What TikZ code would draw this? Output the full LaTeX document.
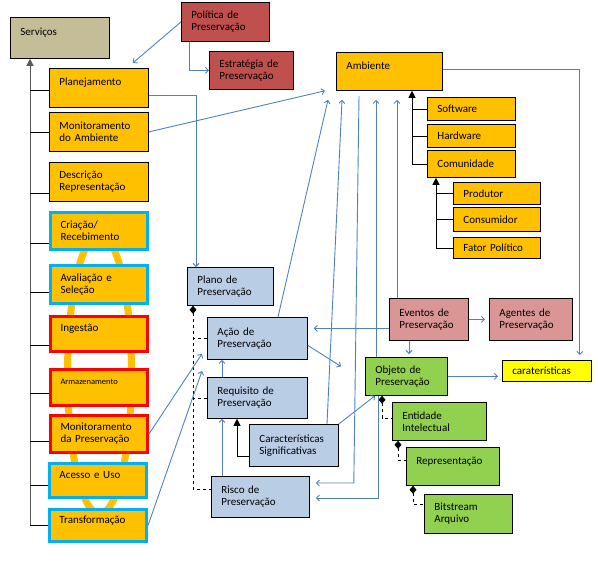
\documentclass[tikz,border=0pt]{standalone}
\usepackage{fontspec}
\setmainfont{Carlito}
\usepackage{xcolor}
\usepackage{tikz}
\usetikzlibrary{arrows.meta}
\definecolor{orng}{HTML}{FFC000}
\definecolor{servc}{HTML}{C4BD97}
\definecolor{redbx}{HTML}{C0504D}
\definecolor{pinkbx}{HTML}{D99694}
\definecolor{bluebx}{HTML}{B9CDE5}
\definecolor{greenbx}{HTML}{92D050}
\definecolor{yelbx}{HTML}{FFFF00}
\definecolor{linkblue}{HTML}{4F81BD}
\definecolor{cyanbd}{HTML}{00B0F0}

\begin{document}
\begin{tikzpicture}[x=1pt, y=-1pt,
  blk/.style={draw, line width=0.8pt, anchor=north west, align=left, inner xsep=10pt, inner ysep=2pt, font=\fontsize{11}{12}\selectfont},
  sz/.style 2 args={minimum width=#1pt, text width=#1pt-20pt, minimum height=#2pt},
  srv/.style={blk, fill=orng},
  cyanb/.style={srv, draw=cyanbd, line width=3pt},
  redb/.style={srv, draw=red, line width=3pt},
  arrow/.style={draw=linkblue, line width=0.9pt, -{Straight Barb[length=3pt,width=6pt]}},
  tri/.style={line width=0.8pt, -{Triangle[length=7pt,width=7pt]}},
  comp/.style={line width=0.8pt, dashed, {Diamond[length=8pt,width=7pt]}-}]
  \useasboundingbox (0,0) rectangle (598,565);
  \draw[orng, line width=7pt] (99.5,374) ellipse [x radius=32pt, y radius=140pt];

  \node[blk, fill=servc, sz={99}{41}] (serv) at (10,17) {Serviços\\\mbox{}};
  \node[blk, fill=redbx, sz={88}{39}] (pol) at (181,2) {Política de\\Preservação};
  \node[blk, fill=redbx, sz={84}{38}] (estr) at (209,51) {Estratégia de\\Preservação};
  \node[srv, sz={99}{39}] (planj) at (49,68) {Planejamento\\\mbox{}};
  \node[srv, sz={99}{39}] (monamb) at (49,112) {Monitoramento\\do Ambiente};
  \node[srv, sz={99}{39}] (descr) at (49,162) {Descrição\\Representação};
  \node[cyanb, sz={97}{37}] (criac) at (49,211) {Criação/\\Recebimento};
  \node[cyanb, sz={97}{38}] (aval) at (49,264) {Avaliação e\\Seleção};
  \node[redb, sz={97}{35}] (ingest) at (49,315) {Ingestão\\\mbox{}};
  \node[redb, sz={97}{36}, font=\fontsize{8.5}{12}\selectfont] (armaz) at (49,368) {Armazenamento\\\mbox{}};
  \node[redb, sz={97}{37}] (monpres) at (49,414) {Monitoramento\\da Preservação};
  \node[cyanb, sz={97}{34}] (acesso) at (48,462) {Acesso e Uso\\\mbox{}};
  \node[cyanb, sz={97}{32}] (transf) at (48,508) {Transformação\\\mbox{}};

  \node[srv, sz={106}{38}] (amb) at (336,52) {Ambiente\\\mbox{}};
  \node[srv, sz={88}{23}] (soft) at (427,97) {Software};
  \node[srv, sz={88}{23}] (hard) at (427,124) {Hardware};
  \node[srv, sz={88}{27}] (com) at (427,150) {Comunidade};
  \node[srv, sz={87}{22}] (prod) at (453,182) {Produtor};
  \node[srv, sz={87}{24}] (cons) at (453,207) {Consumidor};
  \node[srv, sz={87}{21}] (fator) at (453,237) {Fator Político};

  \node[blk, fill=bluebx, sz={86}{38}] (plano) at (187,267) {Plano de\\Preservação};
  \node[blk, fill=bluebx, sz={100}{42}] (acao) at (207,317) {Ação de\\Preservação};
  \node[blk, fill=bluebx, sz={100}{41}] (req) at (207,377) {Requisito de\\Preservação};
  \node[blk, fill=bluebx, sz={89}{42}] (carac) at (249,424) {Características\\Significativas};
  \node[blk, fill=bluebx, sz={98}{41}] (risco) at (211,476) {Risco de\\Preservação};

  \node[blk, fill=pinkbx, sz={79}{42}] (evt) at (389,298) {Eventos de\\Preservação};
  \node[blk, fill=pinkbx, sz={83}{42}] (agt) at (489,298) {Agentes de\\Preservação};
  \node[blk, fill=greenbx, sz={82}{38}] (obj) at (365,357) {Objeto de\\Preservação};
  \node[blk, fill=yelbx, sz={89}{21}] (ctr) at (502,360) {caraterísticas};
  \node[blk, fill=greenbx, sz={94}{38}] (ent) at (392,402) {Entidade\\Intelectual};
  \node[blk, fill=greenbx, sz={93}{38}] (rep) at (406,447) {Representação\\\mbox{}};
  \node[blk, fill=greenbx, sz={88}{39}] (bit) at (424,494) {Bitstream\\Arquivo};

  \coordinate (trunk) at ([xshift=20pt]serv.south west);
  \draw[tri, black!65] (trunk |- 0,525) -- (trunk);
  \foreach \n/\y in {planj/90, monamb/132, descr/193, criac/243, aval/292, ingest/345, armaz/393, monpres/441, acesso/485, transf/525}
    \draw[line width=0.8pt] (\n.west |- 0,\y) -- (trunk |- 0,\y);

  \coordinate (ct) at ([xshift=-15pt]com.west);
  \draw[tri] (ct) -- (ct |- amb.south);
  \foreach \n in {soft,hard,com} \draw[line width=0.8pt] (\n.west) -- (\n.west -| ct);
  \coordinate (pt) at ([xshift=-17pt]fator.west);
  \draw[tri] (pt) -- (pt |- com.south);
  \foreach \n in {prod,cons,fator} \draw[line width=0.8pt] (\n.west) -- (\n.west -| pt);

  \coordinate (pd) at ([xshift=6pt]plano.south west);
  \draw[comp] (pd) |- ([yshift=-13pt]risco.north west);
  \foreach \n in {acao,req} \draw[dashed, line width=0.8pt] (\n.west) -- (\n.west -| pd);
  \draw[comp] ([xshift=17pt]obj.south west) |- ([yshift=-16pt]ent.north west);
  \draw[comp] ([xshift=6pt]ent.south west) |- ([yshift=-13pt]rep.north west);
  \draw[comp] ([xshift=7pt]rep.south west) |- ([yshift=-10pt]bit.north west);

  \draw[arrow] (pol.west) -- ([shift={(-16pt,5pt)}]planj.north east);
  \draw[arrow] ([xshift=8pt]pol.south west) |- (estr.west);
  \draw[arrow] ([yshift=-8pt]planj.east) -| ([xshift=9pt]plano.north west);
  \draw[arrow] (monamb.east) -- ([xshift=-11pt]amb.south west);
  \draw[arrow] ([xshift=71pt]acao.north west) -- ([shift={(-8pt,-9pt)}]amb.south west);
  \draw[arrow] ([xshift=78pt]carac.north west) -- ([shift={(6pt,-9pt)}]amb.south west);
  \draw[arrow] ([shift={(23pt,-5pt)}]amb.south west) -- ([shift={(44pt,-7pt)}]risco.north east) -- ([shift={(6pt,-7pt)}]risco.north east);
  \draw[arrow] ([xshift=11pt]obj.north west) -- ([shift={(40pt,-9pt)}]amb.south west);
  \draw[arrow] ([xshift=13pt]obj.south west) |- ([shift={(6pt,-22pt)}]risco.north east);
  \draw[arrow] ([xshift=8pt]evt.north west) -- ([shift={(61pt,-9pt)}]amb.south west);
  \draw[arrow] ([yshift=-9pt]evt.west) -- ([shift={(6pt,10pt)}]acao.east);
  \draw[arrow, shorten >=4pt] (evt.east) -- (agt.west);
  \draw[arrow, shorten >=3pt] ([xshift=20pt]evt.south west) -- ([xshift=44pt]obj.north west);
  \draw[arrow, shorten >=4pt] (obj.east) -- (obj.east -| ctr.west);
  \draw[arrow, shorten >=5pt] ([yshift=2pt]amb.east) -| ([xshift=-12pt]ctr.north east);
  \draw[arrow] ([yshift=-7pt]acao.east) -- ([shift={(-24pt,10pt)}]obj.west);
  \draw[arrow] (carac.north east) -- ([xshift=10pt]obj.south west);
  \draw[arrow] ([xshift=15pt]req.north west) -- ([xshift=15pt]acao.south west);
  \draw[arrow] ([xshift=11pt]risco.north west) -- ([xshift=15pt]req.south west);
  \draw[tri] ([yshift=-32pt]carac.north west) -| ([xshift=30pt]req.south west);
  \draw[arrow] (monpres.east) -- ([shift={(-5pt,6pt)}]acao.south west);
  \draw[arrow] (transf.east) -- ([shift={(-5pt,6pt)}]req.north west);
\end{tikzpicture}
\end{document}
